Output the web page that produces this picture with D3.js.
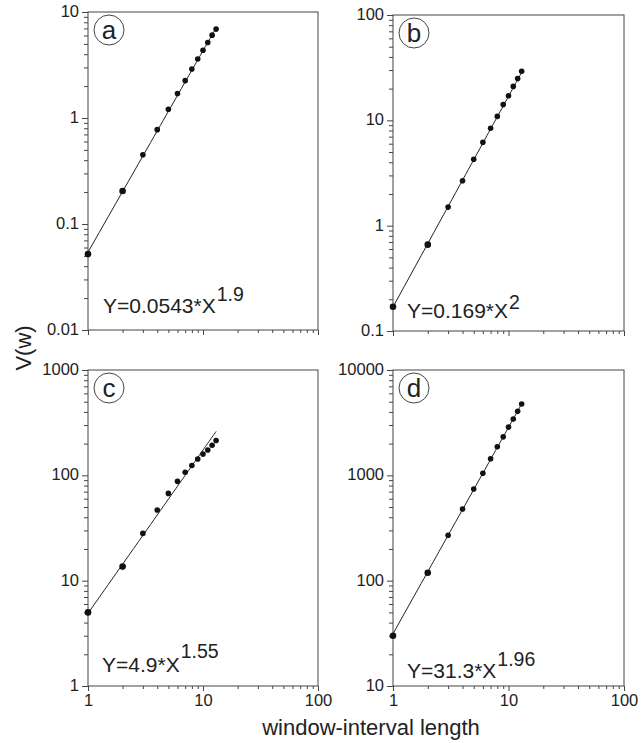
<!DOCTYPE html>
<html>
<head>
<meta charset="utf-8">
<title>V(w) vs window-interval length</title>
<script src="https://cdn.jsdelivr.net/npm/d3@7"></script>
<style>
  html, body {
    margin: 0;
    padding: 0;
    background: #fff;
  }
  svg {
    display: block;
    font-family: 'Liberation Sans', Arial, sans-serif;
  }
  .tick text {
    fill: #222;
  }
</style>
</head>
<body>
<svg id="chart" width="641" height="743"></svg>
<script>
// window-interval length (same for all panels)
const windowLength = [1, 2, 3, 4, 5, 6, 7, 8, 9, 10, 11, 12, 13];

// V(w) values
const valuesA = [0.052, 0.205, 0.45, 0.776, 1.21, 1.7, 2.25, 2.9, 3.6, 4.35, 5.15, 6.05, 6.9];
const valuesB = [0.17, 0.66, 1.5, 2.67, 4.27, 6.18, 8.4, 10.9, 14.1, 17.1, 21.0, 24.9, 29.2];
const valuesC = [5.0, 13.6, 28.1, 46.9, 67.4, 87.7, 107, 124, 143, 159, 174, 193, 214];
const valuesD = [30, 119, 270, 479, 741, 1044, 1438, 1870, 2320, 2870, 3420, 4050, 4750];

// power-law fits Y = coef * X^exp
const panelNames = ['a', 'b', 'c', 'd'];
const fitCoef = [0.0543, 0.169, 4.9, 31.3];
const fitExp = [1.9, 2, 1.55, 1.96];
const fitCoefLabels = ['0.0543', '0.169', '4.9', '31.3'];
const fitExpLabels = ['1.9', '2', '1.55', '1.96'];

// axis ranges
const xDomain = [1, 100];
const xTicks = [1, 10, 100];
const yDomains = [[0.01, 10], [0.1, 100], [1, 1000], [10, 10000]];

const series = [valuesA, valuesB, valuesC, valuesD];

// panel boxes and label placement (pixels)
const layout = [
  { left: 88, right: 318, top: 12, bottom: 330, eqX: 103, eqY: 313, supDy: -12, showX: false },
  { left: 393, right: 624, top: 15, bottom: 331, eqX: 407, eqY: 318, supDy: -9, showX: false },
  { left: 88, right: 318, top: 370, bottom: 686, eqX: 102, eqY: 672, supDy: -14, showX: true },
  { left: 393, right: 624, top: 370, bottom: 686, eqX: 407, eqY: 678, supDy: -12, showX: true },
];

const svg = d3.select('#chart');
const ink = '#222';
const frame = '#444';
const fmt = d3.format('~g');

panelNames.forEach((name, i) => drawPanel(i));

function minorTicks(domain) {
  const ticks = [];
  const lo = Math.round(Math.log10(domain[0]));
  const hi = Math.round(Math.log10(domain[1]));
  for (let e = lo; e < hi; e++) {
    for (let m = 2; m <= 9; m++) {
      ticks.push(+(m * Math.pow(10, e)).toPrecision(3));
    }
  }
  return ticks;
}

function decades(domain) {
  const ticks = [];
  const lo = Math.round(Math.log10(domain[0]));
  const hi = Math.round(Math.log10(domain[1]));
  for (let e = lo; e <= hi; e++) {
    ticks.push(+Math.pow(10, e).toPrecision(3));
  }
  return ticks;
}

function drawPanel(i) {
  const box = layout[i];
  const yDomain = yDomains[i];

  const x = d3.scaleLog().domain(xDomain).range([box.left, box.right]);
  const y = d3.scaleLog().domain(yDomain).range([box.bottom, box.top]);

  const g = svg.append('g').attr('class', `panel panel-${panelNames[i]}`);

  // y axis: minor then major ticks
  const yMinor = g
    .append('g')
    .attr('transform', `translate(${box.left},0)`)
    .call(d3.axisLeft(y).tickValues(minorTicks(yDomain)).tickSize(4).tickFormat(''));
  yMinor.select('.domain').remove();

  const yMajor = g
    .append('g')
    .attr('transform', `translate(${box.left},0)`)
    .call(d3.axisLeft(y).tickValues(decades(yDomain)).tickSize(6).tickPadding(3).tickFormat(fmt));
  yMajor.select('.domain').remove();
  yMajor
    .selectAll('text')
    .attr('font-size', 16.5)
    .attr('font-family', "'Liberation Sans', Arial, sans-serif")
    .attr('dy', '0.28em');

  // x axis along the bottom
  const xMinor = g
    .append('g')
    .attr('transform', `translate(0,${box.bottom})`)
    .call(d3.axisBottom(x).tickValues(minorTicks(xDomain)).tickSize(3).tickFormat(''));
  xMinor.select('.domain').remove();

  const xMajor = g
    .append('g')
    .attr('transform', `translate(0,${box.bottom})`)
    .call(
      d3
        .axisBottom(x)
        .tickValues(xTicks)
        .tickSize(5)
        .tickPadding(3.5)
        .tickFormat(box.showX ? fmt : ''),
    );
  xMajor.select('.domain').remove();
  xMajor
    .selectAll('text')
    .attr('font-size', 16.5)
    .attr('font-family', "'Liberation Sans', Arial, sans-serif");

  g.selectAll('.tick line').attr('stroke', frame);

  // frame
  g.append('rect')
    .attr('x', box.left)
    .attr('y', box.top)
    .attr('width', box.right - box.left)
    .attr('height', box.bottom - box.top)
    .attr('fill', 'none')
    .attr('stroke', frame)
    .attr('stroke-width', 1);

  // fitted power law
  const fitX = d3.range(windowLength[0], windowLength[windowLength.length - 1] + 0.01, 0.25);
  const fitLine = d3
    .line()
    .x((d) => x(d))
    .y((d) => y(fitCoef[i] * Math.pow(d, fitExp[i])));

  g.append('path')
    .datum(fitX)
    .attr('d', fitLine)
    .attr('fill', 'none')
    .attr('stroke', ink)
    .attr('stroke-width', 1);

  // data points
  g.selectAll('circle.pt')
    .data(series[i])
    .enter()
    .append('circle')
    .attr('class', 'pt')
    .attr('cx', (d, k) => x(windowLength[k]))
    .attr('cy', (d) => y(d))
    .attr('r', (d, k) => (k < 2 ? 3.3 : 2.8))
    .attr('fill', '#111');

  // panel letter in a circle
  g.append('circle')
    .attr('cx', box.left + 21)
    .attr('cy', box.top + 18)
    .attr('r', 15)
    .attr('fill', '#fff')
    .attr('stroke', frame)
    .attr('stroke-width', 1);

  g.append('text')
    .attr('x', box.left + 21)
    .attr('y', box.top + 26.5)
    .attr('text-anchor', 'middle')
    .attr('font-size', 26)
    .attr('fill', ink)
    .text(panelNames[i]);

  // equation
  const eq = g
    .append('text')
    .attr('x', box.eqX)
    .attr('y', box.eqY)
    .attr('font-size', 21)
    .attr('fill', ink);
  eq.append('tspan').text(`Y=${fitCoefLabels[i]}*X`);
  eq.append('tspan')
    .attr('dy', box.supDy)
    .attr('dx', 1)
    .attr('font-size', 19.5)
    .text(fitExpLabels[i]);
}

// shared axis titles
svg
  .append('text')
  .attr('transform', 'translate(31,348) rotate(-90)')
  .attr('text-anchor', 'middle')
  .attr('font-size', 22)
  .attr('fill', ink)
  .text('V(w)');

svg
  .append('text')
  .attr('x', 371)
  .attr('y', 735)
  .attr('text-anchor', 'middle')
  .attr('font-size', 22)
  .attr('fill', ink)
  .text('window-interval length');
</script>
</body>
</html>
